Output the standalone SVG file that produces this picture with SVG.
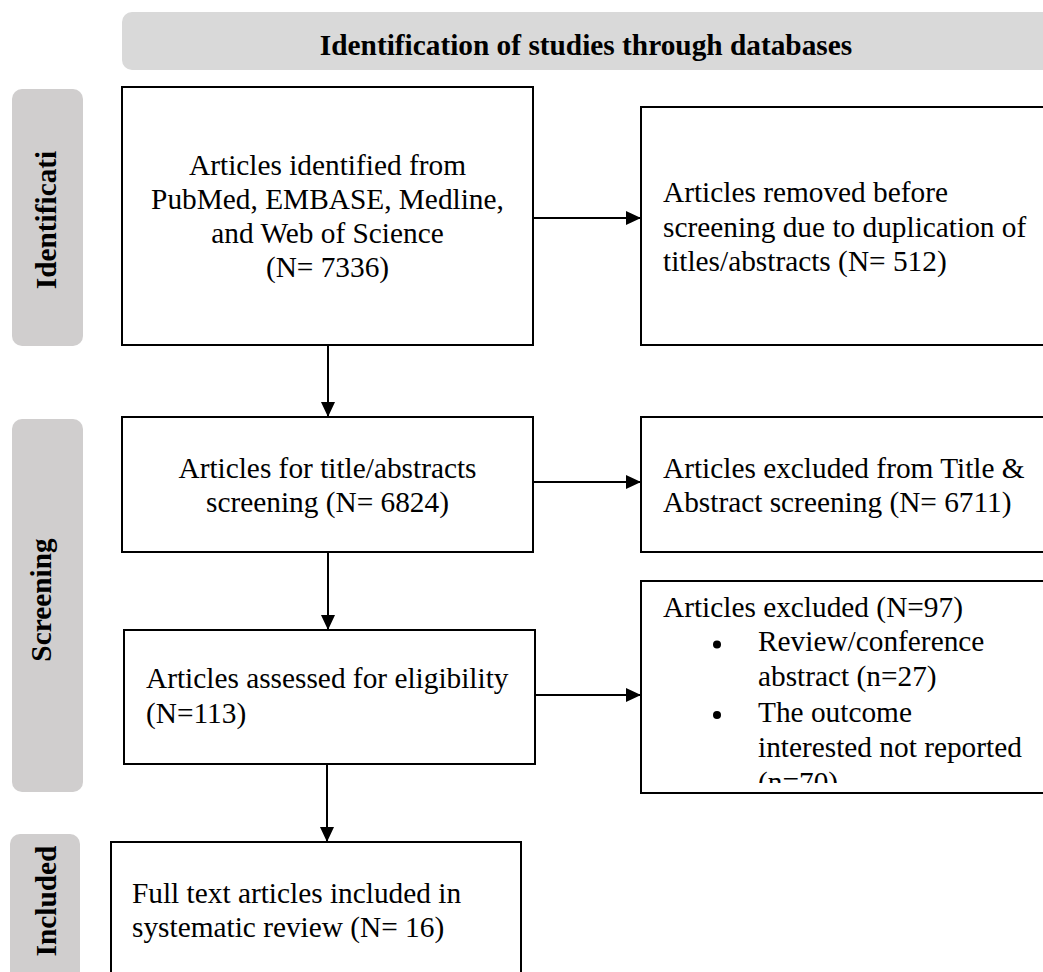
<svg xmlns="http://www.w3.org/2000/svg" width="1043" height="972" viewBox="0 0 1043 972">
<style>
text{font-family:"Liberation Serif","Times New Roman",serif;font-size:29.33px;fill:#000}
.b{font-weight:bold}
.box{fill:#fff;stroke:#000;stroke-width:2}
.side{fill:#d0cece}
.conn line{stroke:#000;stroke-width:2;marker-end:url(#ah)}
</style>
<defs>
<marker id="ah" markerUnits="userSpaceOnUse" markerWidth="15" markerHeight="14" refX="15" refY="7" orient="auto">
<path d="M0,0 L15,7 L0,14 z" fill="#000"/>
</marker>
<clipPath id="c6"><rect x="642" y="582" width="401" height="201"/></clipPath>
</defs>
<rect width="1043" height="972" fill="#fff"/>

<g id="header">
<rect x="122" y="12" width="940" height="58" rx="10" fill="#d9d9d9"/>
<text class="b" x="586" y="55" text-anchor="middle">Identification of studies through databases</text>
</g>

<g id="lane-identification">
<rect class="side" x="12" y="89" width="71" height="257" rx="10"/>
<text class="b" transform="translate(56,220) rotate(-90)" text-anchor="middle">Identificati</text>
</g>
<g id="lane-screening">
<rect class="side" x="12" y="419" width="71" height="373" rx="10"/>
<text class="b" transform="translate(51,600) rotate(-90)" text-anchor="middle">Screening</text>
</g>
<g id="lane-included">
<rect class="side" x="10" y="834" width="70" height="150" rx="10"/>
<text class="b" transform="translate(56,901) rotate(-90)" text-anchor="middle">Included</text>
</g>

<g id="n1">
<rect class="box" x="122" y="87" width="411" height="258"/>
<text text-anchor="middle" x="327.5" y="175">Articles identified from</text>
<text text-anchor="middle" x="327.5" y="209">PubMed, EMBASE, Medline,</text>
<text text-anchor="middle" x="327.5" y="243">and Web of Science</text>
<text text-anchor="middle" x="327.5" y="277">(N= 7336)</text>
</g>

<g id="n2">
<rect class="box" x="641" y="107" width="420" height="238"/>
<text x="663" y="202">Articles removed before</text>
<text x="663" y="236.5">screening due to duplication of</text>
<text x="663" y="271">titles/abstracts (N= 512)</text>
</g>

<g id="n3">
<rect class="box" x="122" y="417" width="411" height="135"/>
<text text-anchor="middle" x="327.5" y="478">Articles for title/abstracts</text>
<text text-anchor="middle" x="327.5" y="512">screening (N= 6824)</text>
</g>

<g id="n4">
<rect class="box" x="641" y="417" width="420" height="135"/>
<text x="663" y="478">Articles excluded from Title &amp;</text>
<text x="663" y="512">Abstract screening (N= 6711)</text>
</g>

<g id="n5">
<rect class="box" x="124" y="630" width="411" height="134"/>
<text x="146" y="688">Articles assessed for eligibility</text>
<text x="146" y="723">(N=113)</text>
</g>

<g id="n6">
<rect class="box" x="641" y="581" width="420" height="212"/>
<g clip-path="url(#c6)">
<text x="663" y="617">Articles excluded (N=97)</text>
<circle cx="717" cy="644.5" r="4" fill="#000"/>
<text x="758" y="651">Review/conference</text>
<text x="758" y="686">abstract (n=27)</text>
<circle cx="717" cy="715" r="4" fill="#000"/>
<text x="758" y="722">The outcome</text>
<text x="758" y="757">interested not reported</text>
<text x="758" y="792">(n=70)</text>
</g>
</g>

<g id="n7">
<rect class="box" x="111" y="842" width="410" height="150"/>
<text x="132" y="903">Full text articles included in</text>
<text x="132" y="937">systematic review (N= 16)</text>
</g>

<g id="connectors" class="conn">
<line x1="328" y1="345" x2="328" y2="417"/>
<line x1="533" y1="218" x2="641" y2="218"/>
<line x1="328" y1="552" x2="328" y2="630"/>
<line x1="533" y1="482" x2="641" y2="482"/>
<line x1="535" y1="695" x2="641" y2="695"/>
<line x1="327" y1="764" x2="327" y2="842"/>
</g>
</svg>
